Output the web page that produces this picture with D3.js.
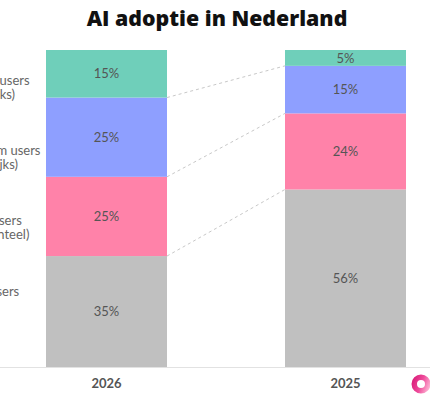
<!DOCTYPE html>
<html><head><meta charset="utf-8">
<script src="https://cdn.jsdelivr.net/npm/d3@7"></script>
<style>
html,body{margin:0;padding:0;background:#fff;overflow:hidden;}
svg{display:block;font-family:Lato,"Noto Sans",sans-serif;}
</style></head>
<body>
<svg id="c" width="430" height="400"></svg>
<script>
// ---- data ----
const title = "AI adoptie in Nederland";
const years = ["2026", "2025"];
const segments = ["Non-users", "Light users", "Medium users", "Power users"];
const segmentSub = ["", "(incidenteel)", "(wekelijks)", "(dagelijks)"];
const values2026 = [35, 25, 25, 15];
const values2025 = [56, 24, 15, 5];
const colors = ["#c0c0c0", "#ff82a9", "#8e9fff", "#6fcfba"];

// ---- layout ----
const svg = d3.select("#c");
const W = 430, H = 400;
const x = d3.scaleBand().domain(years).range([46, 406]).paddingInner(0.4937).paddingOuter(0);
const y = d3.scaleLinear().domain([0, 100]).range([367, 50]);
const labelX = -40;
const labelOffset = [-20, 11, 20, 13.5];

const seriesByYear = {"2026": values2026, "2025": values2025};
const stacks = years.map(yr => {
  let acc = 0;
  return seriesByYear[yr].map((v, i) => {
    const d = {year: yr, i, v, y0: acc, y1: acc + v};
    acc += v;
    return d;
  });
});

// title
svg.append("text").attr("x", 217).attr("y", 26)
  .attr("text-anchor", "middle").attr("font-size", 21.3).attr("font-weight", 800)
  .attr("font-family", "'Open Sans', Lato, sans-serif")
  .attr("fill", "#111").text(title);

// connectors
const g = svg.append("g");
for (let i = 0; i < segments.length - 1; i++) {
  const a = stacks[0][i], b = stacks[1][i];
  g.append("line")
    .attr("x1", x(years[0]) + x.bandwidth()).attr("y1", y(a.y1))
    .attr("x2", x(years[1])).attr("y2", y(b.y1))
    .attr("stroke", "#c8c8c8").attr("stroke-width", 1).attr("stroke-dasharray", "3,3");
}

// bars
stacks.forEach(stack => {
  const bg = svg.append("g");
  bg.selectAll("rect").data(stack).join("rect")
    .attr("x", d => x(d.year)).attr("width", x.bandwidth())
    .attr("y", d => y(d.y1)).attr("height", d => y(d.y0) - y(d.y1))
    .attr("fill", d => colors[d.i]);
  bg.selectAll("text").data(stack).join("text")
    .attr("x", d => x(d.year) + x.bandwidth() / 2)
    .attr("y", d => y((d.y0 + d.y1) / 2))
    .attr("dy", "0.36em").attr("text-anchor", "middle")
    .attr("font-size", 13).attr("fill", "#555").text(d => d.v + "%");
});

// left labels
stacks[0].forEach((d, i) => {
  const cy = y((d.y0 + d.y1) / 2) + labelOffset[i];
  const t = svg.append("text").attr("x", labelX).attr("font-size", 13).attr("fill", "#666");
  if (segmentSub[i]) {
    t.append("tspan").attr("x", labelX).attr("y", cy - 7).attr("dy", "0.36em").text(segments[i]);
    t.append("tspan").attr("x", labelX).attr("y", cy + 7).attr("dy", "0.36em").text(segmentSub[i]);
  } else {
    t.append("tspan").attr("x", labelX).attr("y", cy).attr("dy", "0.36em").text(segments[i]);
  }
});

// axis
svg.insert("line", ":first-child").attr("x1", 0).attr("x2", W).attr("y1", y(0) + 0.5).attr("y2", y(0) + 0.5)
  .attr("stroke", "#e2e2e2").attr("stroke-width", 1);
const ax = svg.append("g").attr("transform", `translate(0,${y(0) + 0.5})`)
  .call(d3.axisBottom(x).tickSize(0).tickPadding(11));
ax.select(".domain").remove();
ax.selectAll("text").attr("font-size", 13).attr("font-weight", 700).attr("fill", "#555")
  .attr("font-family", "Lato, 'Noto Sans', sans-serif");

// logo
const defs = svg.append("defs");
const lg = defs.append("linearGradient").attr("id", "lg").attr("x1", "0").attr("y1", "0.3").attr("x2", "1").attr("y2", "0.7");
lg.append("stop").attr("offset", "0").attr("stop-color", "#d81b78");
lg.append("stop").attr("offset", "0.5").attr("stop-color", "#ee4a9a");
lg.append("stop").attr("offset", "1").attr("stop-color", "#ffc0da");
const arc = d3.arc().innerRadius(4).outerRadius(9.5).startAngle(0).endAngle(2 * Math.PI);
svg.append("path").attr("transform", "translate(421,384)").attr("d", arc()).attr("fill", "url(#lg)");
</script>
</body></html>
